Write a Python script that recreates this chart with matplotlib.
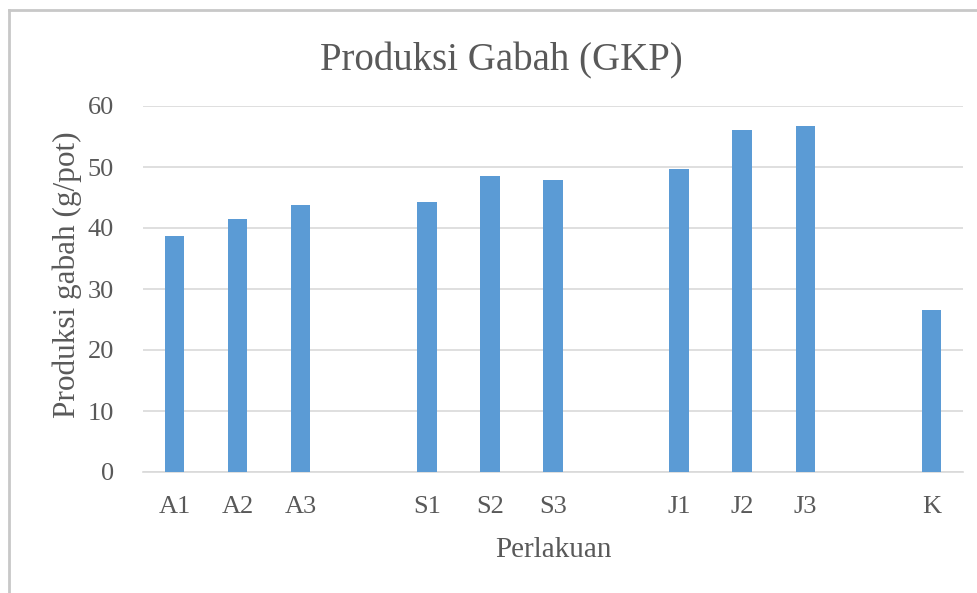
import matplotlib.pyplot as plt
from matplotlib.lines import Line2D

# data (blank slots separate the treatment groups)
categories = ['A1', 'A2', 'A3', '', 'S1', 'S2', 'S3', '', 'J1', 'J2', 'J3', '', 'K']
values = [38.7, 41.4, 43.8, 0, 44.3, 48.5, 47.9, 0, 49.6, 56.0, 56.7, 0, 26.6]

text_color = '#595959'
bar_color = '#5B9BD5'
grid_color = '#D9D9D9'

plt.rcParams['font.family'] = ['Liberation Serif', 'DejaVu Serif']

fig = plt.figure(figsize=(9.78, 5.93), dpi=100)
W, H = 978, 593
ax = fig.add_axes([143 / W, 1 - 472 / H, (963 - 143) / W, (472 - 106) / H])

x = list(range(len(categories)))
heights = [v if c else 0 for c, v in zip(categories, values)]
ax.bar(x, heights, width=0.31, color=bar_color, zorder=3)

ax.set_xlim(-0.5, len(categories) - 0.5)
ax.set_ylim(0, 60)
ax.set_yticks(range(0, 61, 10))
ax.set_xticks(x)
ax.set_xticklabels(categories)
ax.tick_params(axis='both', length=0, colors=text_color, labelsize=19)
ax.tick_params(axis='y', pad=21)
ax.tick_params(axis='x', pad=17)
ax.grid(axis='y', color=grid_color, linewidth=1.2, zorder=0)
for s in ['top', 'right', 'left']:
    ax.spines[s].set_visible(False)
ax.spines['bottom'].set_color(grid_color)
ax.spines['bottom'].set_linewidth(1.2)

ax.set_xlabel('Perlakuan', fontsize=21, color=text_color, labelpad=14)
ax.set_ylabel('Produksi gabah (g/pot)', fontsize=22.5, color=text_color)
ax.yaxis.set_label_coords(-0.075, 0.54)
fig.text(501 / W, 1 - 70 / H, 'Produksi Gabah (GKP)', ha='center', va='baseline',
         fontsize=28, color=text_color)

# outer chart border (runs off the right and bottom edges)
fig.add_artist(Line2D([9 / W, 1], [1 - 10 / H, 1 - 10 / H], color='#C8C8C8', linewidth=2))
fig.add_artist(Line2D([9 / W, 9 / W], [0, 1 - 10 / H], color='#C8C8C8', linewidth=2))

fig.savefig('out.png', dpi=100)
